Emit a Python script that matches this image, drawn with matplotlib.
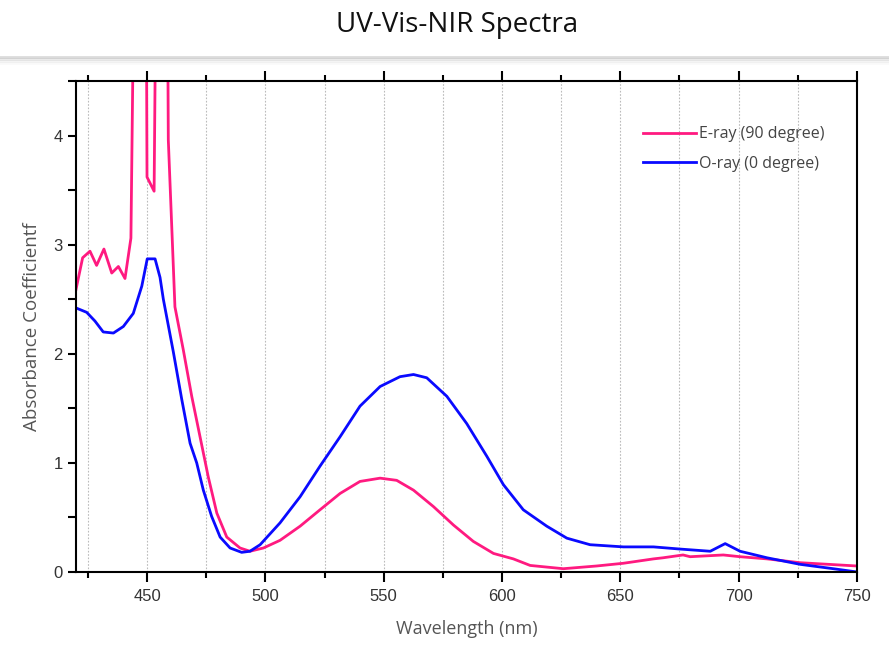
import numpy as np
import matplotlib
matplotlib.use("Agg")
import matplotlib.pyplot as plt
from matplotlib.ticker import MultipleLocator, FuncFormatter

# E-ray (90 degree), values above 4.5 run off the top
e_wl = [420, 422.8, 425.9, 428.7, 431.8, 435.1, 437.9, 440.7, 443.2, 444.5, 447, 449.6,
        450.0, 453.0, 454.0, 456, 458.5, 459.0, 461.8, 465.3, 468.9, 472.4, 475.9,
        479.5, 483.7, 489.3, 493.5, 499.2, 506.2, 514.7, 523.1, 531.6, 540, 548.5,
        555.5, 562.6, 571, 579.5, 587.9, 596.4, 604.8, 611.9, 625.9, 640, 651.3,
        664, 668, 676.5, 679.5, 693.5, 700.6, 712, 726, 750]
e_abs = [2.59, 2.88, 2.94, 2.81, 2.96, 2.74, 2.80, 2.69, 3.06, 5.5, 7.0, 6.0,
         3.62, 3.49, 6.0, 7.0, 6.0, 3.96, 2.43, 2.04, 1.61, 1.24, 0.87,
         0.54, 0.32, 0.22, 0.19, 0.22, 0.29, 0.42, 0.57, 0.72, 0.83, 0.86,
         0.84, 0.75, 0.60, 0.43, 0.28, 0.17, 0.12, 0.06, 0.03, 0.055, 0.08,
         0.12, 0.13, 0.156, 0.14, 0.156, 0.14, 0.12, 0.085, 0.055]

# O-ray (0 degree)
o_wl = [420, 424.5, 428, 431.5, 435.8, 440, 444.2, 447.8, 450.1, 453.4, 455.5, 456.9,
        461.1, 464.7, 468.2, 471, 473.8, 477.3, 480.9, 485.1, 490, 493.5, 497.8,
        506.2, 514.7, 523.1, 531.6, 540, 548.5, 556.9, 562.6, 568.2, 576.7, 585.1,
        593.6, 600.6, 609, 618.9, 627.4, 637.2, 651.3, 664, 675.3, 688, 694.3,
        700.6, 712, 726, 740, 750]
o_abs = [2.42, 2.38, 2.30, 2.20, 2.19, 2.25, 2.37, 2.62, 2.87, 2.87, 2.70, 2.50,
         2.02, 1.58, 1.18, 1.00, 0.75, 0.51, 0.32, 0.22, 0.18, 0.19, 0.25,
         0.45, 0.69, 0.97, 1.24, 1.52, 1.70, 1.79, 1.81, 1.78, 1.61, 1.36,
         1.06, 0.80, 0.57, 0.42, 0.31, 0.25, 0.23, 0.23, 0.21, 0.19, 0.26,
         0.19, 0.13, 0.07, 0.03, 0.0]

fig = plt.figure(figsize=(8.89, 6.45), dpi=100)
ax = fig.add_axes([0.0855, 0.1132, 0.964 - 0.0855, 0.8744 - 0.1132])

fig.text(0.514, 0.961, "UV-Vis-NIR Spectra", ha="center", va="center",
         fontsize=20, family="Open Sans", color="#111111")
# shaded separator under the title
for i, a in enumerate([0.35, 0.2, 0.1, 0.05]):
    fig.add_artist(plt.Line2D([0, 1], [0.911 - i * 0.003] * 2, color="#999999",
                              alpha=a, lw=2, transform=fig.transFigure))

ax.plot(e_wl, e_abs, color="#ff1a80", lw=2, label="E-ray (90 degree)")
ax.plot(o_wl, o_abs, color="#0a0aff", lw=2, label="O-ray (0 degree)")

ax.set_xlim(420, 750)
ax.set_ylim(0, 4.5)
ax.xaxis.set_major_locator(MultipleLocator(50))
ax.xaxis.set_minor_locator(MultipleLocator(25))
ax.yaxis.set_major_locator(MultipleLocator(0.5))
ax.yaxis.set_major_formatter(FuncFormatter(lambda v, p: "%d" % v if abs(v - round(v)) < 1e-6 else ""))

ax.grid(True, axis="x", which="both", color="#bbbbbb", ls=(0, (1.5, 1.5)), lw=0.8)
ax.tick_params(axis="x", which="major", direction="out", length=7, width=1.5,
               top=True, labelsize=12, labelcolor="#333333", pad=5)
ax.tick_params(axis="x", which="minor", direction="out", length=4, width=1.5, top=True)
ax.tick_params(axis="y", which="major", direction="out", length=6, width=1.5,
               labelsize=12, labelcolor="#333333")
for s in ax.spines.values():
    s.set_linewidth(1.5)

for t in ax.get_xticklabels() + ax.get_yticklabels():
    t.set_family("Liberation Sans")

ax.set_xlabel("Wavelength (nm)", fontsize=13, color="#555555", family="Open Sans", labelpad=12)
ax.set_ylabel("Absorbance Coefficientf", fontsize=13.5, color="#555555", family="Open Sans", labelpad=9)

leg = ax.legend(loc="upper right", bbox_to_anchor=(0.977, 0.937), frameon=False,
                handlelength=3.3, prop={"family": "Open Sans", "size": 11.5},
                labelspacing=0.85, handletextpad=0.2)
for t in leg.get_texts():
    t.set_color("#444444")

fig.savefig("out.png", dpi=100)
